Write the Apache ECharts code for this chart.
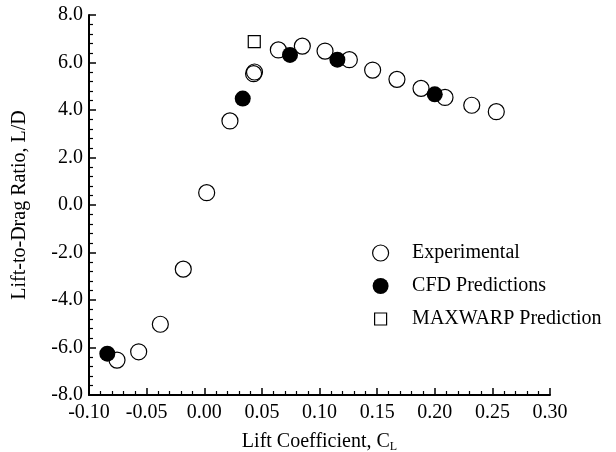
<!DOCTYPE html>
<html>
<head>
<meta charset="utf-8">
<script src="https://cdn.jsdelivr.net/npm/echarts@6/dist/echarts.min.js"></script>
<style>html,body{margin:0;padding:0;background:#fff}#c{width:616px;height:452px}</style>
</head>
<body>
<div id="c"></div>
<script>
// Data
var expCL = [-0.0757, -0.0569, -0.0381, -0.0182, 0.0021, 0.0223, 0.0428, 0.0436, 0.0643, 0.0851, 0.1048, 0.1259, 0.1461, 0.1672, 0.1881, 0.2089, 0.2321, 0.2534];
var expLD = [-6.53, -6.18, -5.02, -2.70, 0.52, 3.54, 5.53, 5.60, 6.53, 6.69, 6.48, 6.12, 5.68, 5.29, 4.91, 4.53, 4.20, 3.93];
var cfdCL = [-0.0841, 0.0334, 0.0744, 0.1155, 0.2000];
var cfdLD = [-6.26, 4.48, 6.32, 6.12, 4.66];
var mwCL = [0.0434];
var mwLD = [6.88];
var seriesNames = ['Experimental', 'CFD Predictions', 'MAXWARP Prediction'];
var xTitle = 'Lift Coefficient, C';
var xTitleSub = 'L';
var yTitle = 'Lift-to-Drag Ratio, L/D';

function zip(a, b) { return a.map(function (v, i) { return [v, b[i]]; }); }

var FONT = 'Liberation Serif';
var FS = 20;
var chart = echarts.init(document.getElementById('c'));
var axisCommon = {
  axisLine: { onZero: false, lineStyle: { color: '#000', width: 2 } },
  axisTick: { inside: true, length: 7, lineStyle: { color: '#000', width: 1.5 } },
  minorTick: { show: true, splitNumber: 5, length: 4, lineStyle: { color: '#000', width: 1.2 } },
  splitLine: { show: false },
  nameTextStyle: { color: '#000', fontFamily: FONT, fontSize: FS }
};
var squarePath = 'path://M0,0M16,16M2,2L14,2L14,14L2,14Z';
chart.setOption({
  animation: false,
  backgroundColor: '#fff',
  grid: { left: 89, right: 66, top: 15, bottom: 57, outerBoundsMode: 'none', containLabel: false },
  xAxis: Object.assign({}, axisCommon, {
    type: 'value', min: -0.1, max: 0.3, interval: 0.05,
    axisLabel: { color: '#000', fontFamily: FONT, fontSize: FS, margin: 8,
      formatter: function (v) { return v.toFixed(2); } },
    name: '{a|' + xTitle + '}{s|' + xTitleSub + '}',
    nameLocation: 'middle', nameGap: 36,
    nameTextStyle: { color: '#000', fontFamily: FONT, fontSize: FS,
      rich: { a: { fontFamily: FONT, fontSize: FS, color: '#000', lineHeight: 22 },
              s: { fontFamily: FONT, fontSize: 12, color: '#000', verticalAlign: 'bottom', padding: [10, 0, 0, 0] } } }
  }),
  yAxis: Object.assign({}, axisCommon, {
    type: 'value', min: -8, max: 8, interval: 2,
    axisLabel: { color: '#000', fontFamily: FONT, fontSize: FS, margin: 6,
      formatter: function (v) { return v.toFixed(1); } },
    name: yTitle, nameLocation: 'middle', nameGap: 59, nameRotate: 90
  }),
  legend: {
    orient: 'vertical', left: 367, top: 238,
    itemWidth: 53, itemHeight: 16, itemGap: 13,
    selectedMode: false,
    textStyle: { color: '#000', fontFamily: FONT, fontSize: FS },
    data: [
      { name: seriesNames[0], icon: 'circle', itemStyle: { color: 'rgba(255,255,255,0)', borderColor: '#000', borderWidth: 1.2 } },
      { name: seriesNames[1], icon: 'circle', itemStyle: { color: '#000', borderColor: '#000', borderWidth: 0 } },
      { name: seriesNames[2], icon: squarePath, itemStyle: { color: '#fff', borderColor: '#000', borderWidth: 1.2 } }
    ]
  },
  series: [
    { name: seriesNames[0], type: 'scatter', symbol: 'circle', symbolSize: 16,
      itemStyle: { color: 'rgba(255,255,255,0)', borderColor: '#000', borderWidth: 1.2, opacity: 1 },
      data: zip(expCL, expLD), z: 2 },
    { name: seriesNames[1], type: 'scatter', symbol: 'circle', symbolSize: 16,
      itemStyle: { color: '#000', borderColor: '#000', borderWidth: 0, opacity: 1 },
      data: zip(cfdCL, cfdLD), z: 3 },
    { name: seriesNames[2], type: 'scatter', symbol: 'rect', symbolSize: 12,
      itemStyle: { color: '#fff', borderColor: '#000', borderWidth: 1.2, opacity: 1 },
      data: zip(mwCL, mwLD), z: 4 }
  ]
});
</script>
</body>
</html>
